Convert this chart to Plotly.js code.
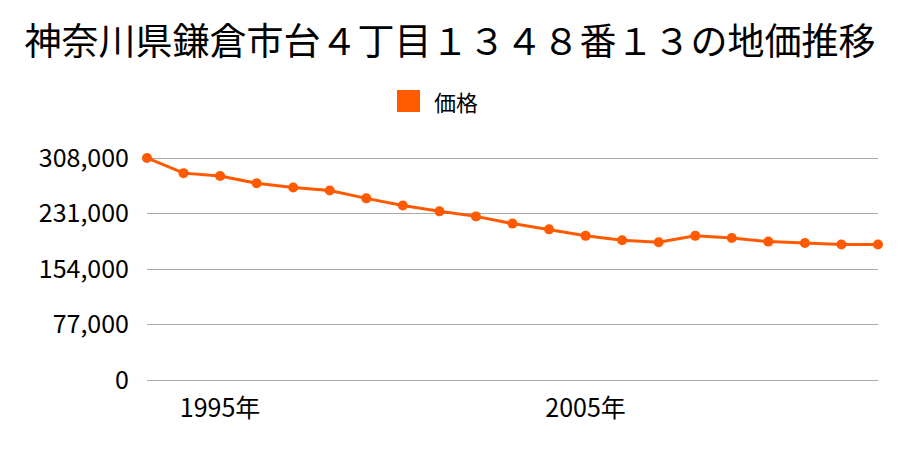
<!DOCTYPE html>
<html>
<head>
<meta charset="utf-8">
<script src="https://cdn.plot.ly/plotly-3.0.1.min.js"></script>
<style>html,body{margin:0;padding:0;background:#fff;}#chart{width:900px;height:450px;}</style>
</head>
<body>
<div id="chart"></div>
<script>
const years = [1993,1994,1995,1996,1997,1998,1999,2000,2001,2002,2003,2004,2005,2006,2007,2008,2009,2010,2011,2012,2013];
const prices = [308000,287000,283000,273000,267000,263000,252000,242000,234000,227000,217000,209000,200000,194000,191000,200000,197000,192000,190000,188000,188000];
const xTickVals = [1995, 2005];
const xTickText = ['1995年', '2005年'];
const yTickVals = [0, 77000, 154000, 231000, 308000];
const seriesName = '価格';
const titleText = '神奈川県鎌倉市台４丁目１３４８番１３の地価推移';

const font = '"Noto Sans CJK JP", "Noto Sans", sans-serif';
const color = '#ff5a00';

// plot area: y=155..383 px (gridline 308,000 at 158, 0 at 380)
const T = 155, B = 383, H = B - T;
const py = (pix) => (B - pix) / H;   // page y pixel -> paper fraction
const L = 147, W = 731;
const px = (pix) => (pix - L) / W;

const traces = [
  {
    x: years, y: prices, type: 'scatter', mode: 'lines+markers', name: seriesName,
    line: {color: color, width: 3},
    marker: {color: color, size: 10},
    cliponaxis: false, showlegend: false, hoverinfo: 'skip'
  }
];

const layout = {
  width: 900, height: 450,
  margin: {l: L, r: 900 - L - W, t: T, b: 450 - B},
  paper_bgcolor: '#fff', plot_bgcolor: '#fff',
  font: {family: font, color: '#000'},
  title: {text: titleText, font: {size: 37, family: font, color: '#000'},
          x: 0.5, xanchor: 'center', xref: 'container', y: 0.907, yanchor: 'middle', yref: 'container'},
  showlegend: false,
  shapes: [
    {type: 'rect', xref: 'paper', yref: 'paper', x0: px(397), x1: px(420),
     y0: py(112), y1: py(90), fillcolor: color, line: {width: 0}}
  ],
  annotations: [
    {text: seriesName, xref: 'paper', yref: 'paper', x: px(432), xanchor: 'left',
     y: py(101), yanchor: 'middle', showarrow: false,
     font: {size: 22, family: font, color: '#000'}}
  ],
  xaxis: {range: [1993, 2013], tickvals: xTickVals, ticktext: xTickText,
          showgrid: false, zeroline: false, showline: false,
          ticks: 'outside', ticklen: 3, tickcolor: 'rgba(0,0,0,0)',
          tickfont: {size: 25, family: font}},
  yaxis: {range: [-4162, 312162], tickvals: yTickVals, tickformat: ',d',
          showgrid: true, gridcolor: '#aaaaaa', gridwidth: 1, zeroline: false, showline: false,
          ticks: 'outside', ticklen: 12, tickcolor: 'rgba(0,0,0,0)',
          tickfont: {size: 25, family: font}}
};

Plotly.newPlot('chart', traces, layout, {displayModeBar: false, staticPlot: true});
</script>
</body>
</html>
